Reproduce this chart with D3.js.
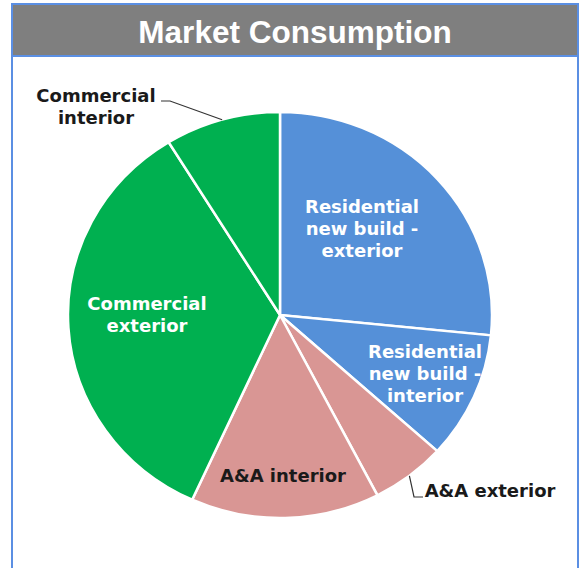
<!doctype html>
<html lang="en">
  <head>
    <meta charset="UTF-8" />
    <title>Market Consumption</title>
    <script src="https://d3js.org/d3.v7.min.js"></script>
    <style>
      html,
      body {
        margin: 0;
        padding: 0;
        background: #fff;
        overflow: hidden;
      }
      svg {
        display: block;
      }
      .lbl {
        font-family: "DejaVu Sans", sans-serif;
        font-weight: bold;
        font-size: 18px;
        text-anchor: middle;
        dominant-baseline: central;
      }
    </style>
  </head>
  <body>
    <svg id="chart" width="582" height="568"></svg>

    <script>
      // slices, clockwise from 12 o'clock
      const categories = [
        "Residential new build - exterior",
        "Residential new build - interior",
        "A&A exterior",
        "A&A interior",
        "Commercial exterior",
        "Commercial interior",
      ];
      const shares = [26.6, 10.1, 5.7, 14.4, 34.4, 8.8];
      const colours = ["#5590d8", "#5590d8", "#d99694", "#d99694", "#00b050", "#00b050"];

      // label lines as printed on the chart
      const labelLines = [
        ["Residential", "new build -", "exterior"],
        ["Residential", "new build -", "interior"],
        ["A&A exterior"],
        ["A&A interior"],
        ["Commercial", "exterior"],
        ["Commercial", "interior"],
      ];

      const W = 582, H = 568;
      const cx = 280, cy = 315;
      const rx = 212, ry = 203; // pie is a bit squashed in the picture

      const svg = d3.select("#chart");

      // frame + title bar
      svg.append("rect")
        .attr("x", 12).attr("y", 56).attr("width", 566).attr("height", H)
        .attr("fill", "#fff").attr("stroke", "#5b8fe3").attr("stroke-width", 2);
      svg.append("rect")
        .attr("x", 12).attr("y", 4).attr("width", 566).attr("height", 52)
        .attr("fill", "#7f7f7f").attr("stroke", "#5b8fe3").attr("stroke-width", 2);
      svg.append("text")
        .attr("x", 295).attr("y", 43)
        .attr("text-anchor", "middle")
        .style("font-family", "'Liberation Sans', Arial, sans-serif")
        .style("font-weight", "bold")
        .style("font-size", "31.5px")
        .attr("fill", "#fff")
        .text("Market Consumption");

      const data = categories.map((c, i) => ({ name: c, value: shares[i], color: colours[i], lines: labelLines[i] }));
      const pie = d3.pie().sort(null).value((d) => d.value);
      const arcs = pie(data);
      const arc = d3.arc().innerRadius(0).outerRadius(rx);

      const g = svg.append("g")
        .attr("transform", `translate(${cx},${cy}) scale(1,${ry / rx})`);

      g.selectAll("path")
        .data(arcs)
        .enter()
        .append("path")
        .attr("d", arc)
        .attr("fill", (d) => d.data.color)
        .attr("stroke", "#fff")
        .attr("stroke-width", 2.5)
        .attr("vector-effect", "non-scaling-stroke");

      // point on the pie edge at a slice's middle angle (screen coords)
      function edge(d) {
        const a = (d.startAngle + d.endAngle) / 2;
        return [cx + rx * Math.sin(a), cy - ry * Math.cos(a)];
      }

      // where each label block sits (line centres, screen coords)
      const labelPos = [
        { x: 362, y: 206, fill: "#fff" },
        { x: 425, y: 351, fill: "#fff" },
        { x: 490, y: 490, fill: "#1a1a1a" },
        { x: 283, y: 475, fill: "#1a1a1a" },
        { x: 147, y: 303, fill: "#fff" },
        { x: 96, y: 95, fill: "#1a1a1a" },
      ];
      const lineH = 22;

      arcs.forEach((d, i) => {
        const p = labelPos[i];
        const t = svg.append("text").attr("class", "lbl").attr("fill", p.fill);
        d.data.lines.forEach((ln, k) => {
          t.append("tspan").attr("x", p.x).attr("y", p.y + k * lineH).text(ln);
        });
      });

      // leader lines for the two small outside labels
      const leader = d3.line();
      const ci = edge(arcs[5]);
      svg.append("path")
        .attr("d", leader([[161, 101], [170, 101], ci]))
        .attr("fill", "none").attr("stroke", "#333").attr("stroke-width", 1.2);
      const ae = edge(arcs[2]);
      svg.append("path")
        .attr("d", leader([ae, [414, 497], [423, 497]]))
        .attr("fill", "none").attr("stroke", "#333").attr("stroke-width", 1.2);
    </script>
  </body>
</html>
